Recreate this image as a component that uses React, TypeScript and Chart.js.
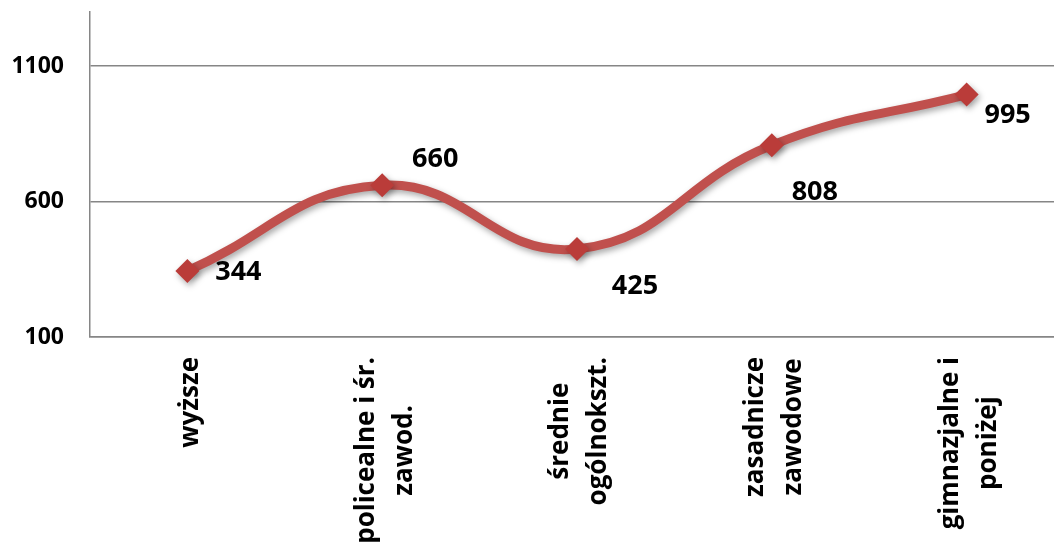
import React, { useEffect, useRef } from "react";
import { Chart, registerables } from "chart.js";

Chart.register(...registerables);

const categories: string[][] = [
  ["wyższe"],
  ["policealne i śr.", "zawod."],
  ["średnie", "ogólnokszt."],
  ["zasadnicze", "zawodowe"],
  ["gimnazjalne i", "poniżej"],
];
const values: number[] = [344, 660, 425, 808, 995];
const yTicks: number[] = [100, 600, 1100];
const yMin = 100;
const yMax = 1300;
// label placement relative to each point (dx, dy)
const labelOffsets: number[][] = [
  [51, 1],
  [53, -26],
  [58, 37],
  [43, 47],
  [41, 21],
];

const FONT = "'Open Sans', 'DejaVu Sans', sans-serif";
const RED = "#C0504D";
const GRID = "#868686";
const CANVAS_W = 1076;

export default function App() {
  const ref = useRef<HTMLCanvasElement | null>(null);

  useEffect(() => {
    if (!ref.current) return;

    const shadowPlugin = {
      id: "shadow",
      beforeDatasetDraw(chart: any) {
        const ctx = chart.ctx;
        ctx.save();
        ctx.shadowColor = "rgba(0,0,0,0.35)";
        ctx.shadowBlur = 6;
        ctx.shadowOffsetX = 2;
        ctx.shadowOffsetY = 3;
      },
      afterDatasetDraw(chart: any) {
        chart.ctx.restore();
      },
    };

    const labelsPlugin = {
      id: "customLabels",
      afterDraw(chart: any) {
        const ctx = chart.ctx;
        const meta = chart.getDatasetMeta(0);
        // data labels
        ctx.save();
        ctx.fillStyle = "#000";
        ctx.font = `bold 27px ${FONT}`;
        ctx.textAlign = "center";
        ctx.textBaseline = "middle";
        meta.data.forEach((pt: any, i: number) => {
          const [dx, dy] = labelOffsets[i];
          ctx.fillText(String(values[i]), pt.x + dx, pt.y + dy);
        });
        ctx.restore();

        // category labels (rotated, centered lines)
        const xs = chart.scales.x;
        const top = chart.chartArea.bottom + 20;
        const lineH = 38;
        ctx.save();
        ctx.fillStyle = "#000";
        ctx.font = `bold 26px ${FONT}`;
        ctx.textAlign = "center";
        ctx.textBaseline = "middle";
        categories.forEach((lines, i) => {
          const x = xs.getPixelForValue(i);
          const maxW = Math.max(...lines.map((l) => ctx.measureText(l).width));
          ctx.save();
          ctx.translate(x, top);
          ctx.rotate(-Math.PI / 2);
          const n = lines.length;
          lines.forEach((l, j) => {
            const y = (j - (n - 1) / 2) * lineH + 3;
            ctx.fillText(l, -maxW / 2, y);
          });
          ctx.restore();
        });
        ctx.restore();
      },
    };

    const chart = new Chart(ref.current, {
      type: "line",
      data: {
        labels: categories.map((c) => c.join(" ")),
        datasets: [
          {
            data: values,
            borderColor: RED,
            backgroundColor: "#BA3C39",
            borderWidth: 9,
            tension: 0.45,
            pointStyle: "rectRot",
            pointRadius: 12,
            pointBorderWidth: 0,
            pointBackgroundColor: "#BA3C39",
            fill: false,
          },
        ],
      },
      options: {
        animation: false,
        responsive: false,
        layout: { padding: { top: 12, left: 0, right: 0, bottom: 0 } },
        plugins: {
          legend: { display: false },
          tooltip: { enabled: false },
        },
        scales: {
          x: {
            offset: true,
            grid: { display: false },
            border: { display: true, color: GRID, width: 1.5 },
            ticks: { display: false },
            afterFit(scale: any) {
              scale.height = 546 - 337;
              scale.paddingLeft = 0;
              scale.paddingRight = 0;
            },
          },
          y: {
            min: yMin,
            max: yMax,
            afterBuildTicks(scale: any) {
              scale.ticks = yTicks.map((v) => ({ value: v }));
            },
            afterFit(scale: any) {
              scale.width = 90;
              scale.paddingTop = 0;
              scale.paddingBottom = 0;
            },
            grid: { color: GRID, lineWidth: 1.5, drawTicks: false },
            border: { display: true, color: GRID, width: 1.5 },
            ticks: {
              padding: 26,
              color: "#000",
              font: { family: FONT, size: 23, weight: "bold" },
              callback: (v: any) => String(v),
            },
          },
        },
      },
      plugins: [shadowPlugin, labelsPlugin],
    });

    return () => chart.destroy();
  }, []);

  return (
    <div
      style={{
        position: "fixed",
        left: 0,
        top: 0,
        width: 1054,
        height: 546,
        overflow: "hidden",
        background: "#fff",
      }}
    >
      <canvas
        ref={ref}
        width={CANVAS_W}
        height={546}
        style={{ display: "block", width: CANVAS_W, height: 546 }}
      />
    </div>
  );
}
